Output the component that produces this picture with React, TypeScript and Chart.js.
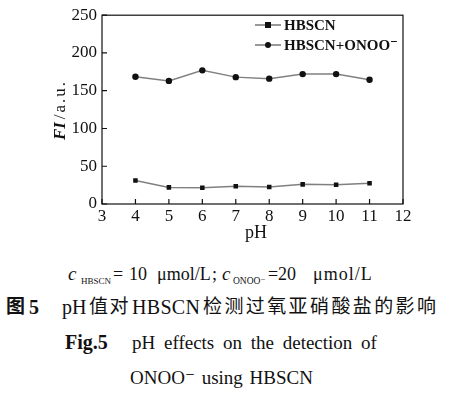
import React, { useEffect, useRef } from "react";
import { Chart, registerables } from "chart.js";

Chart.register(...registerables);

const phValues = [4, 5, 6, 7, 8, 9, 10, 11];
const hbscn = [31, 22, 21.5, 23.5, 22.5, 26, 25.5, 27.5];
const hbscnOnoo = [168.5, 163, 177, 168, 166, 172, 172, 164.5];
const seriesNames = ["HBSCN", "HBSCN+ONOO\u207B"];
const xTicks = [3, 4, 5, 6, 7, 8, 9, 10, 11, 12];
const yTicks = [0, 50, 100, 150, 200, 250];

const SERIF = "'Liberation Serif', 'DejaVu Serif', serif";
const CJK = "'Noto Sans CJK SC', sans-serif";

const decorPlugin = {
  id: "decor",
  afterDraw(chart: any) {
    const { ctx, chartArea: a, scales } = chart;
    const xs = scales.x;
    const ys = scales.y;
    ctx.save();
    ctx.strokeStyle = "#111";
    ctx.lineWidth = 1.2;
    ctx.strokeRect(a.left, a.top, a.right - a.left, a.bottom - a.top);
    ctx.beginPath();
    xTicks.forEach((v) => {
      const px = xs.getPixelForValue(v);
      ctx.moveTo(px, a.bottom);
      ctx.lineTo(px, a.bottom - 5);
    });
    yTicks.forEach((v) => {
      const py = ys.getPixelForValue(v);
      ctx.moveTo(a.left, py);
      ctx.lineTo(a.left + 5, py);
    });
    ctx.stroke();
    // x title
    ctx.fillStyle = "#111";
    ctx.font = `18px ${SERIF}`;
    ctx.textAlign = "center";
    ctx.textBaseline = "middle";
    ctx.fillText("pH", 256, 233);
    // y title
    ctx.translate(61, 110);
    ctx.rotate(-Math.PI / 2);
    ctx.textAlign = "left";
    ctx.font = `italic bold 17px ${SERIF}`;
    const t1 = "FI";
    const w1 = ctx.measureText(t1).width;
    ctx.font = `17px ${SERIF}`;
    (ctx as any).letterSpacing = "2px";
    const t2 = "/a.u.";
    const w2 = ctx.measureText(t2).width;
    const gap = 3;
    const start = -(w1 + gap + w2) / 2;
    (ctx as any).letterSpacing = "0px";
    ctx.font = `italic bold 17px ${SERIF}`;
    ctx.fillText(t1, start, 0);
    ctx.font = `17px ${SERIF}`;
    (ctx as any).letterSpacing = "2px";
    ctx.fillText(t2, start + w1 + gap, 0);
    (ctx as any).letterSpacing = "0px";
    ctx.restore();

    // legend
    ctx.save();
    const rows = [25, 45];
    chart.data.datasets.forEach((ds: any, i: number) => {
      const y = rows[i];
      ctx.strokeStyle = "#777";
      ctx.lineWidth = 1.5;
      ctx.beginPath();
      ctx.moveTo(255, y);
      ctx.lineTo(281, y);
      ctx.stroke();
      ctx.fillStyle = "#111";
      if (ds.pointStyle === "rect") {
        ctx.fillRect(265, y - 3, 6, 6);
      } else {
        ctx.beginPath();
        ctx.arc(268, y, 3, 0, Math.PI * 2);
        ctx.fill();
      }
      ctx.font = `bold 15px ${SERIF}`;
      ctx.textAlign = "left";
      ctx.textBaseline = "middle";
      ctx.fillText(ds.label, 284, y + 1);
    });
    ctx.restore();
  },
};

function ChartBox() {
  const ref = useRef<HTMLCanvasElement | null>(null);
  useEffect(() => {
    document.body.style.margin = "0";
    const c = ref.current!;
    const chart = new Chart(c, {
      type: "line",
      data: {
        datasets: [
          {
            label: seriesNames[0],
            data: phValues.map((x, i) => ({ x, y: hbscn[i] })),
            borderColor: "#808080",
            borderWidth: 1.5,
            pointStyle: "rect",
            pointRadius: 3.2,
            pointBackgroundColor: "#111",
            pointBorderColor: "#111",
            pointBorderWidth: 0,
          },
          {
            label: seriesNames[1],
            data: phValues.map((x, i) => ({ x, y: hbscnOnoo[i] })),
            borderColor: "#808080",
            borderWidth: 1.5,
            pointStyle: "circle",
            pointRadius: 3.2,
            pointBackgroundColor: "#111",
            pointBorderColor: "#111",
            pointBorderWidth: 0,
          },
        ],
      },
      options: {
        animation: false,
        responsive: false,
        maintainAspectRatio: false,
        layout: { padding: { left: 0, top: 14, right: 47, bottom: 0 } },
        plugins: { legend: { display: false }, tooltip: { enabled: false } },
        scales: {
          x: {
            type: "linear",
            min: 3,
            max: 12,
            afterBuildTicks: (s: any) => {
              s.ticks = xTicks.map((v) => ({ value: v }));
            },
            afterFit: (s: any) => {
              s.height = 41;
            },
            grid: { display: false, drawTicks: false },
            border: { display: false },
            ticks: {
              padding: 2,
              color: "#111",
              font: { family: SERIF, size: 17 },
              maxRotation: 0,
              autoSkip: false,
            },
          },
          y: {
            min: 0,
            max: 250,
            afterBuildTicks: (s: any) => {
              s.ticks = yTicks.map((v) => ({ value: v }));
            },
            afterFit: (s: any) => {
              s.width = 102;
            },
            grid: { display: false, drawTicks: false },
            border: { display: false },
            ticks: {
              padding: 5,
              color: "#111",
              font: { family: SERIF, size: 17 },
            },
          },
        },
      },
      plugins: [decorPlugin],
    } as any);
    return () => chart.destroy();
  }, []);
  return <canvas ref={ref} width={450} height={245} style={{ display: "block" }} />;
}

type TProps = {
  x: number;
  base: number;
  size: number;
  text: string;
  italic?: boolean;
  bold?: boolean;
  ls?: number;
  ws?: number;
  cjk?: boolean;
};

function T({ x, base, size, text, italic, bold, ls, ws, cjk }: TProps) {
  const k = cjk ? 0.936 : 0.8375;
  return (
    <span
      style={{
        position: "absolute",
        left: x,
        top: base - k * size,
        fontSize: size,
        lineHeight: `${size}px`,
        whiteSpace: "pre",
        fontFamily: cjk ? CJK : SERIF,
        fontStyle: italic ? "italic" : "normal",
        fontWeight: bold ? "bold" : "normal",
        letterSpacing: ls ? `${ls}px` : undefined,
        wordSpacing: ws ? `${ws}px` : undefined,
        color: "#111",
      }}
    >
      {text}
    </span>
  );
}

export default function App() {
  return (
    <div style={{ position: "relative", width: 450, height: 395, background: "#fff", overflow: "hidden" }}>
      <ChartBox />
      {/* condition line */}
      <T x={68} base={280} size={19} text="c" italic />
      <T x={81} base={285} size={9} text="HBSCN" />
      <T x={113} base={280} size={18} text="=" />
      <T x={129} base={280} size={18} text="10" />
      <T x={157} base={280} size={18} text="μmol/L" />
      <T x={212} base={280} size={18} text=";" />
      <T x={222} base={280} size={19} text="c" italic />
      <T x={233} base={285} size={9.5} text="ONOO⁻" />
      <T x={268} base={280} size={18} text="=" />
      <T x={278} base={280} size={18} text="20" />
      <T x={313} base={280} size={18} text="μmol/L" ls={1} />
      {/* Chinese caption */}
      <T x={6} base={313} size={19} text="图" cjk bold />
      <T x={29} base={314} size={20} text="5" bold />
      <T x={62} base={314} size={20} text="pH" />
      <T x={89} base={313} size={19} text="值对" cjk ls={1.5} />
      <T x={132} base={314} size={20} text="HBSCN" ls={0.3} />
      <T x={203} base={313} size={19} text="检测过氧亚硝酸盐的影响" cjk ls={2.4} />
      {/* English caption */}
      <T x={65} base={349} size={20} text="Fig.5" bold />
      <T x={132} base={349} size={19} text="pH effects on the detection of" ws={4} />
      <T x={130} base={384} size={19} text="ONOO⁻ using HBSCN" ws={2} />
    </div>
  );
}
